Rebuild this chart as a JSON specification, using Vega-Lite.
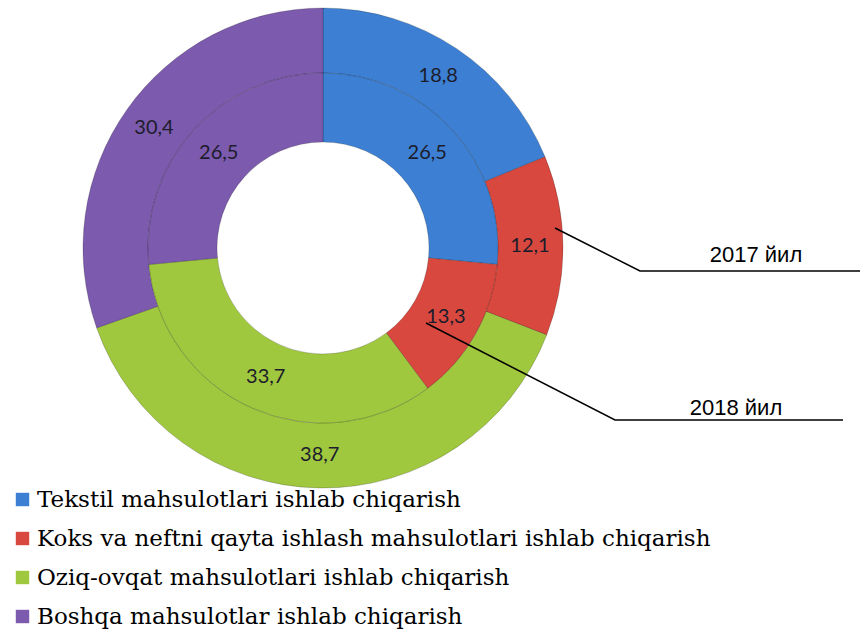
{
  "$schema": "https://vega.github.io/schema/vega-lite/v6.json",
  "width": 860,
  "height": 639,
  "autosize": "none",
  "padding": 0,
  "background": "white",
  "config": {
    "view": {"stroke": null},
    "locale": {"number": {"decimal": ",", "thousands": " ", "grouping": [3], "currency": ["", ""]}}
  },
  "datasets": {
    "rings": [
      {"year": "2017", "category": "Tekstil mahsulotlari ishlab chiqarish", "value": 18.8, "k": 1},
      {"year": "2017", "category": "Koks va neftni qayta ishlash mahsulotlari ishlab chiqarish", "value": 12.1, "k": 2},
      {"year": "2017", "category": "Oziq-ovqat mahsulotlari ishlab chiqarish", "value": 38.7, "k": 3},
      {"year": "2017", "category": "Boshqa mahsulotlar ishlab chiqarish", "value": 30.4, "k": 4},
      {"year": "2018", "category": "Tekstil mahsulotlari ishlab chiqarish", "value": 26.5, "k": 1},
      {"year": "2018", "category": "Koks va neftni qayta ishlash mahsulotlari ishlab chiqarish", "value": 13.3, "k": 2},
      {"year": "2018", "category": "Oziq-ovqat mahsulotlari ishlab chiqarish", "value": 33.7, "k": 3},
      {"year": "2018", "category": "Boshqa mahsulotlar ishlab chiqarish", "value": 26.5, "k": 4}
    ],
    "leaders": [
      {"g": "2017", "i": 1, "x": 2.32, "y": 0.20},
      {"g": "2017", "i": 2, "x": 3.17, "y": -0.23},
      {"g": "2017", "i": 3, "x": 5.40, "y": -0.23},
      {"g": "2018", "i": 1, "x": 1.03, "y": -0.75},
      {"g": "2018", "i": 2, "x": 2.92, "y": -1.72},
      {"g": "2018", "i": 3, "x": 5.20, "y": -1.72}
    ],
    "notes": [
      {"label": "2017 йил", "x": 4.33, "y": -0.07},
      {"label": "2018 йил", "x": 4.13, "y": -1.60}
    ]
  },
  "layer": [
    {
      "data": {"name": "rings"},
      "transform": [{"filter": "datum.year === '2017'"}],
      "mark": {"type": "arc", "radius": 240, "radius2": 175, "stroke": "#000000", "strokeOpacity": 0.2, "strokeWidth": 1},
      "encoding": {
        "x": {"datum": 0, "type": "quantitative", "scale": {"domain": [-3.23, 5.37], "nice": false, "zero": false}, "axis": null},
        "y": {"datum": 0, "type": "quantitative", "scale": {"domain": [-3.91, 2.48], "nice": false, "zero": false}, "axis": null},
        "theta": {"field": "value", "type": "quantitative", "stack": true, "scale": {"domain": [0, 100]}},
        "order": {"field": "k", "type": "quantitative"},
        "color": {
          "field": "category",
          "type": "nominal",
          "scale": {
            "domain": [
              "Tekstil mahsulotlari ishlab chiqarish",
              "Koks va neftni qayta ishlash mahsulotlari ishlab chiqarish",
              "Oziq-ovqat mahsulotlari ishlab chiqarish",
              "Boshqa mahsulotlar ishlab chiqarish"
            ],
            "range": ["#3D80D3", "#D9483E", "#A0C83E", "#7C5AAE"]
          },
          "legend": {
            "orient": "none",
            "legendX": 11,
            "legendY": 488,
            "title": null,
            "symbolType": "square",
            "symbolSize": 180,
            "symbolStrokeWidth": 0,
            "labelFont": "DejaVu Serif",
            "labelFontSize": 23,
            "labelColor": "#000000",
            "labelLimit": 800,
            "labelOffset": 3,
            "rowPadding": 15
          }
        }
      }
    },
    {
      "data": {"name": "rings"},
      "transform": [{"filter": "datum.year === '2018'"}],
      "mark": {"type": "arc", "radius": 175, "radius2": 106, "stroke": "#000000", "strokeOpacity": 0.2, "strokeWidth": 1},
      "encoding": {
        "x": {"datum": 0, "type": "quantitative"},
        "y": {"datum": 0, "type": "quantitative"},
        "theta": {"field": "value", "type": "quantitative", "stack": true},
        "order": {"field": "k", "type": "quantitative"},
        "color": {"field": "category", "type": "nominal", "legend": null}
      }
    },
    {
      "data": {"name": "rings"},
      "transform": [{"filter": "datum.year === '2017'"}],
      "mark": {"type": "text", "radius": 207, "font": "Lato", "fontSize": 20, "fill": "#1c1c2c"},
      "encoding": {
        "x": {"datum": 0, "type": "quantitative"},
        "y": {"datum": 0, "type": "quantitative"},
        "theta": {"field": "value", "type": "quantitative", "stack": true},
        "order": {"field": "k", "type": "quantitative"},
        "text": {"field": "value", "type": "quantitative", "format": ".1f"}
      }
    },
    {
      "data": {"name": "rings"},
      "transform": [{"filter": "datum.year === '2018'"}],
      "mark": {"type": "text", "radius": 141, "font": "Lato", "fontSize": 20, "fill": "#1c1c2c"},
      "encoding": {
        "x": {"datum": 0, "type": "quantitative"},
        "y": {"datum": 0, "type": "quantitative"},
        "theta": {"field": "value", "type": "quantitative", "stack": true},
        "order": {"field": "k", "type": "quantitative"},
        "text": {"field": "value", "type": "quantitative", "format": ".1f"}
      }
    },
    {
      "data": {"name": "leaders"},
      "mark": {"type": "line", "color": "#000000", "strokeWidth": 1.5},
      "encoding": {
        "x": {"field": "x", "type": "quantitative"},
        "y": {"field": "y", "type": "quantitative"},
        "detail": {"field": "g", "type": "nominal"},
        "order": {"field": "i", "type": "quantitative"}
      }
    },
    {
      "data": {"name": "notes"},
      "mark": {"type": "text", "font": "Liberation Sans", "fontSize": 22, "fill": "#000000"},
      "encoding": {
        "x": {"field": "x", "type": "quantitative"},
        "y": {"field": "y", "type": "quantitative"},
        "text": {"field": "label", "type": "nominal"}
      }
    }
  ]
}
